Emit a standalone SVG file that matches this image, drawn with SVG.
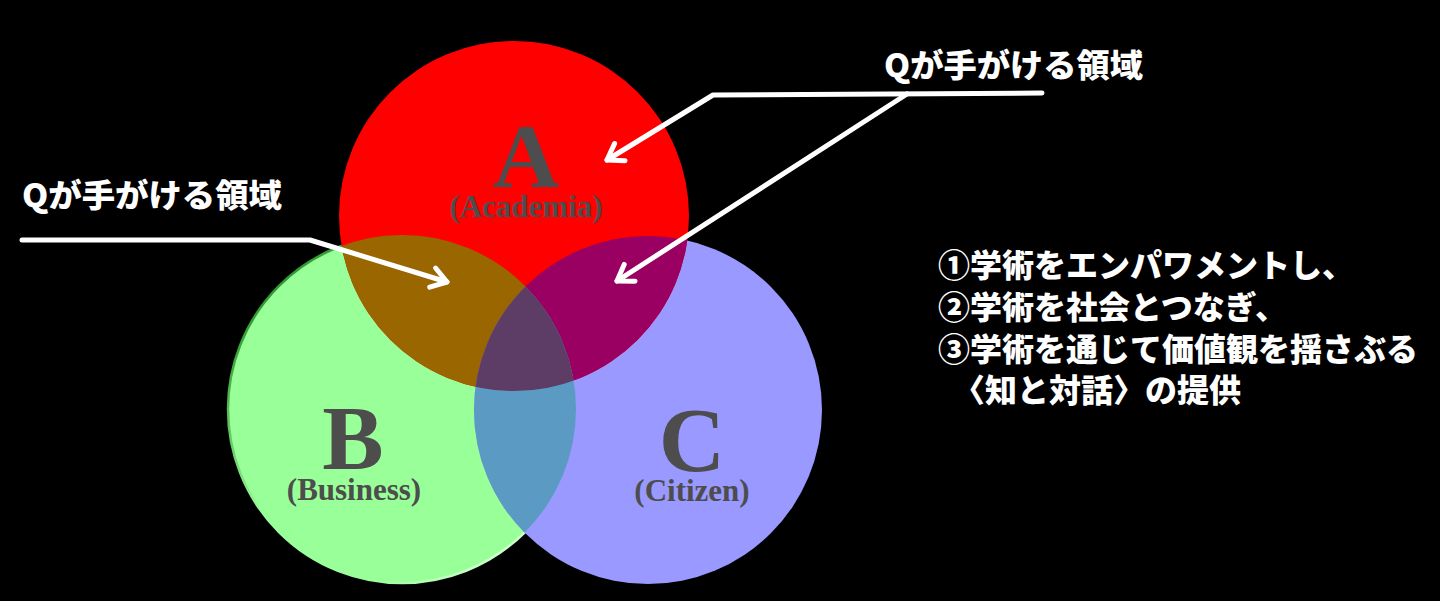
<svg xmlns="http://www.w3.org/2000/svg" width="1440" height="601" viewBox="0 0 1440 601">
  <style>
    .big { font-family: "Liberation Serif", "Times New Roman", serif; font-weight: bold; font-size: 92px; fill: #4D4D4D; text-anchor: middle; }
    .sub { font-family: "Liberation Serif", "Times New Roman", serif; font-weight: bold; font-size: 31px; fill: #4D4D4D; text-anchor: middle; }
    .jp { font-family: "Noto Sans CJK JP", "Noto Sans", sans-serif; font-weight: 900; font-size: 32px; fill: #FFFFFF; }
    .conn { fill: none; stroke: #FFFFFF; stroke-width: 5; stroke-linejoin: round; stroke-linecap: round; }
  </style>
  <defs>
    <marker id="arrow" markerUnits="userSpaceOnUse" markerWidth="40" markerHeight="40" viewBox="-20 -20 40 40" refX="0" refY="0" orient="auto" overflow="visible">
      <path d="M -15,-10 L 0,0 L -15,10" fill="none" stroke="#FFFFFF" stroke-width="5" stroke-linecap="round" stroke-linejoin="round"/>
    </marker>
    <linearGradient id="bStroke" x1="0" y1="0" x2="1" y2="1">
      <stop offset="0" stop-color="#006600"/>
      <stop offset="0.45" stop-color="#99FF99"/>
      <stop offset="0.7" stop-color="#99FF99"/>
      <stop offset="1" stop-color="#FFFFFF"/>
    </linearGradient>
    <clipPath id="clipA"><circle cx="514" cy="216" r="175"/></clipPath>
    <clipPath id="clipB"><circle cx="402" cy="409" r="174"/></clipPath>
    <clipPath id="clipC"><circle cx="648" cy="410" r="174"/></clipPath>
  </defs>
  <rect x="0" y="0" width="1440" height="601" fill="#000000"/>

  <g id="nodeB">
    <circle cx="402" cy="409" r="174" fill="#99FF99" stroke="url(#bStroke)" stroke-width="2.5"/>
  </g>
  <g id="nodeC">
    <circle cx="648" cy="410" r="174" fill="#9999FF"/>
  </g>
  <g id="nodeA">
    <circle cx="514" cy="216" r="175" fill="#FF0000"/>
  </g>
  <g id="overlaps">
    <circle cx="514" cy="216" r="175" fill="#996600" clip-path="url(#clipB)"/>
    <circle cx="514" cy="216" r="175" fill="#990062" clip-path="url(#clipC)"/>
    <circle cx="402" cy="409" r="174" fill="#5B9AC3" clip-path="url(#clipC)"/>
    <g clip-path="url(#clipB)">
      <circle cx="514" cy="216" r="175" fill="#5D3C66" clip-path="url(#clipC)"/>
    </g>
  </g>

  <g id="labelA">
    <text class="big" x="526" y="187">A</text>
    <text class="sub" x="526" y="217">(Academia)</text>
  </g>
  <g id="labelB">
    <text class="big" x="353" y="469">B</text>
    <text class="sub" x="354" y="500">(Business)</text>
  </g>
  <g id="labelC">
    <text class="big" x="692" y="471">C</text>
    <text class="sub" x="692" y="501">(Citizen)</text>
  </g>

  <g id="calloutLeft">
    <text class="jp" x="22" y="207" textLength="260" lengthAdjust="spacingAndGlyphs">Qが手がける領域</text>
  </g>
  <g id="calloutRight">
    <text class="jp" x="884" y="77" textLength="259" lengthAdjust="spacingAndGlyphs">Qが手がける領域</text>
  </g>
  <g id="mission">
    <text class="jp" x="938" y="277">①学術をエンパワメントし、</text>
    <text class="jp" x="938" y="319">②学術を社会とつなぎ、</text>
    <text class="jp" x="938" y="361">③学術を通じて価値観を揺さぶる</text>
    <text class="jp" x="953" y="402">〈知と対話〉の提供</text>
  </g>

  <g id="connectors">
    <polyline class="conn" points="22,240 310,240 447,282" marker-end="url(#arrow)"/>
    <polyline class="conn" points="1042,93 713,95 607,160" marker-end="url(#arrow)"/>
    <polyline class="conn" points="907,94 617,281" marker-end="url(#arrow)"/>
  </g>
</svg>
